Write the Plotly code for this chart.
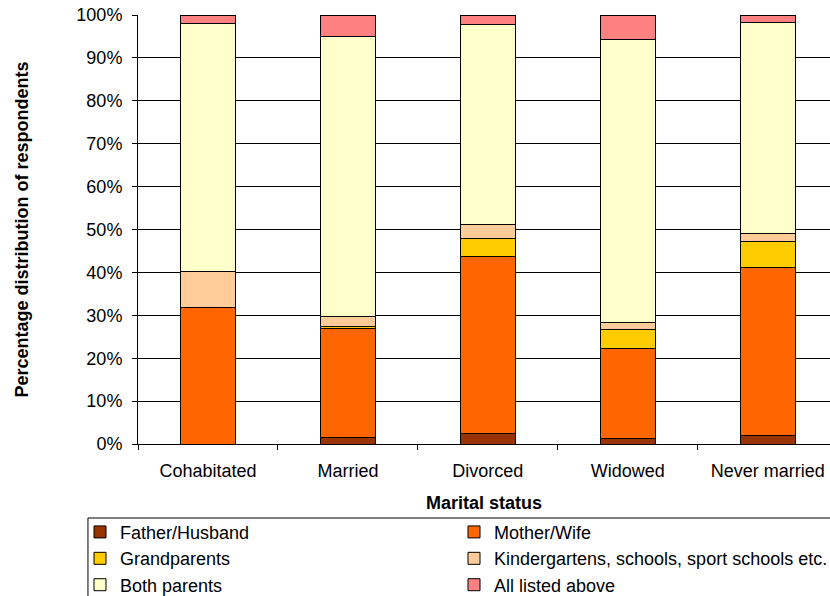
import plotly.graph_objects as go

categories = ["Cohabitated", "Married", "Divorced", "Widowed", "Never married"]
father_husband = [0.0, 1.6, 2.4, 1.3, 1.9]
mother_wife = [31.9, 25.4, 41.4, 21.0, 39.3]
grandparents = [0.0, 0.3, 4.1, 4.5, 5.9]
kindergartens = [8.4, 2.5, 3.3, 1.5, 1.9]
both_parents = [57.7, 65.1, 46.5, 65.9, 49.2]
all_listed = [2.0, 5.1, 2.3, 5.8, 1.8]

series = [
    ("Father/Husband", father_husband, "#993300"),
    ("Mother/Wife", mother_wife, "#FF6600"),
    ("Grandparents", grandparents, "#FFCC00"),
    ("Kindergartens, schools, sport schools etc.", kindergartens, "#FFCC99"),
    ("Both parents", both_parents, "#FFFFCC"),
    ("All listed above", all_listed, "#FF8080"),
]

fig = go.Figure()
for name, vals, col in series:
    fig.add_trace(go.Bar(
        x=categories, y=vals, name=name,
        marker=dict(color=col, line=dict(color="#000000", width=1)),
    ))

font_family = "Liberation Sans, Arial, sans-serif"

fig.update_layout(
    barmode="stack",
    bargap=0.605,
    width=830, height=596,
    margin=dict(l=138, r=0, t=15, b=152, autoexpand=False),
    paper_bgcolor="white", plot_bgcolor="white",
    font=dict(family=font_family, size=18, color="#000000"),
    showlegend=True,
    legend=dict(
        orientation="h",
        x=-0.0838, xanchor="left",
        y=-0.1625, yanchor="top",
        entrywidth=329, entrywidthmode="pixels",
        font=dict(size=18, family=font_family),
        bgcolor="rgba(0,0,0,0)",
        traceorder="normal",
        itemwidth=30,
    ),
    xaxis=dict(
        range=[-0.5, 4.445],
        showline=True, linecolor="#000000", linewidth=1,
        ticks="outside", ticklen=5, tickcolor="#000000",
        tickson="boundaries",
        showgrid=False,
        tickfont=dict(size=18),
        ticklabelstandoff=10,
        title=dict(text="<b>Marital status</b>", font=dict(size=18), standoff=16),
    ),
    yaxis=dict(
        range=[0, 100],
        tickvals=[0, 10, 20, 30, 40, 50, 60, 70, 80, 90, 100],
        ticktext=["0%", "10%", "20%", "30%", "40%", "50%", "60%", "70%", "80%", "90%", "100%"],
        showline=True, linecolor="#000000", linewidth=1,
        ticks="outside", ticklen=5, tickcolor="#000000",
        showgrid=True, gridcolor="#000000", gridwidth=1,
        zeroline=False,
        tickfont=dict(size=18),
        ticklabelstandoff=6,
        title=dict(text="<b>Percentage distribution of respondents</b>", font=dict(size=18), standoff=43),
    ),
    shapes=[dict(
        type="rect", xref="paper", yref="paper",
        x0=-0.0723, x1=1.01, y0=-0.1725, y1=-0.37,
        line=dict(color="#000000", width=1), fillcolor="rgba(0,0,0,0)",
        layer="above",
    )],
)

fig.write_html("out.html")
